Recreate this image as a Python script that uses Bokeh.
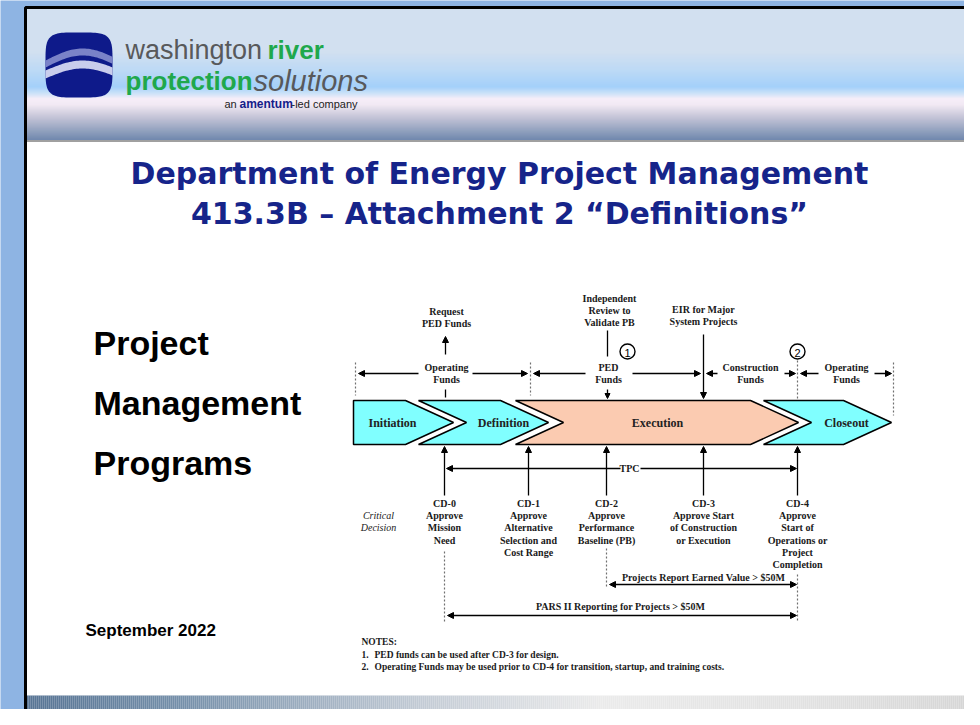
import numpy as np
from bokeh.plotting import figure
from bokeh.models import Range1d, Arrow, NormalHead
from bokeh.core.properties import value
from bokeh.embed import file_html
from bokeh.resources import INLINE

# ---------------- content ----------------
title_lines = ["Department of Energy Project Management",
               "413.3B \u2013 Attachment 2 \u201cDefinitions\u201d"]
side_lines = ["Project", "Management", "Programs"]
date_label = "September 2022"

phase_names = ["Initiation", "Definition", "Execution", "Closeout"]
phase_colors = ["#80FFFF", "#80FFFF", "#FBCBB1", "#80FFFF"]
phase_left = [353, 418, 515, 763]
phase_right = [405, 500, 750, 843]
phase_label_x = [392, 503, 657, 846]

cd_names = ["CD-0", "CD-1", "CD-2", "CD-3", "CD-4"]
cd_desc = [["Approve", "Mission", "Need"],
           ["Approve", "Alternative", "Selection and", "Cost Range"],
           ["Approve", "Performance", "Baseline (PB)"],
           ["Approve Start", "of Construction", "or Execution"],
           ["Approve", "Start of", "Operations or", "Project", "Completion"]]
cd_x = [444, 528, 606, 703, 797]

fund_labels = [["Operating", "Funds"], ["PED", "Funds"], ["Construction", "Funds"], ["Operating", "Funds"]]
fund_x = [446, 608, 750, 846]

top_labels = [["Request", "PED Funds"], ["Independent", "Review to", "Validate PB"], ["EIR for Major", "System Projects"]]
top_x = [446, 609, 703]
top_y0 = [311, 298, 309]

report_labels = ["Projects Report Earned Value > $50M", "PARS II Reporting for Projects > $50M"]
notes = ["NOTES:",
         "PED funds can be used after CD-3 for design.",
         "Operating Funds may be used prior to CD-4 for transition, startup, and training costs."]

# ---------------- figure ----------------
W, H = 964, 709
p = figure(width=W, height=H, x_range=Range1d(0, W), y_range=Range1d(H, 0),
           output_backend="svg", toolbar_location=None, x_axis_type=None, y_axis_type=None,
           min_border=0)
p.grid.visible = False
p.outline_line_color = None
p.background_fill_color = "#8EB4E3"
p.border_fill_color = "#8EB4E3"

SERIF = value("Liberation Serif")
SANS = value("Liberation Sans")


def hex2rgb(h):
    h = h.lstrip("#")
    return np.array([int(h[i:i + 2], 16) for i in (0, 2, 4)], dtype=float)


def grad_colors(stops, pos):
    ps = [s[0] for s in stops]
    cs = np.array([hex2rgb(s[1]) for s in stops])
    out = []
    for v in pos:
        r = np.interp(v, ps, cs[:, 0]); g = np.interp(v, ps, cs[:, 1]); b = np.interp(v, ps, cs[:, 2])
        out.append("#%02x%02x%02x" % (int(r), int(g), int(b)))
    return out


# slide body
p.quad(left=[26], right=[971], top=[8], bottom=[730], fill_color="white", line_color=None)

# header gradient
hy = np.arange(8, 140, 1.0)
hstops = [(8, "#C4D6EB"), (50, "#C4D6EB"), (70, "#A6CDF3"), (86, "#85C1F9"), (92, "#B5D7F6"),
          (98, "#F4E8F6"), (104, "#EDE2F0"), (115, "#B8B6CE"), (127, "#7C8CB0"), (140, "#3E5F91")]
p.quad(left=26, right=971, top=hy, bottom=hy + 1.05, fill_color=grad_colors(hstops, hy), line_color=None)
p.segment(x0=[26], x1=[971], y0=[140.5], y1=[140.5], line_color="#A0A0A0", line_width=2)

# footer gradient
fx = np.arange(26, 971, 2.0)
fstops = [(26, "#587595"), (180, "#7690AA"), (420, "#C3CBD5"), (600, "#EBEBEB"), (800, "#E2E2E2"), (971, "#D6D6D6")]
p.quad(left=fx, right=fx + 2.1, top=695, bottom=730, fill_color=grad_colors(fstops, fx), line_color=None)

# slide frame
p.line(x=[25, 25, 972, 972], y=[730, 7, 7, 730], line_color="black", line_width=3)

# ---------------- logo ----------------
t = np.linspace(0, 2 * np.pi, 120)
n = 4.5
lx = 78.5 + 33.5 * np.sign(np.cos(t)) * np.abs(np.cos(t)) ** (2 / n)
ly = 64.5 + 32.5 * np.sign(np.sin(t)) * np.abs(np.sin(t)) ** (2 / n)
p.patch(lx, ly, fill_color="#0E1A8A", line_color=None)
wx = np.linspace(45, 112, 40)
w1_top = 60 - 12 * np.sin((wx - 45) / 67 * np.pi * 0.9)
w1_bot = w1_top + 7
p.patch(np.concatenate([wx, wx[::-1]]), np.concatenate([w1_top, w1_bot[::-1]]), fill_color="#7A82C8", line_color=None)
w2_top = 70 - 10 * np.sin((wx - 45) / 67 * np.pi * 0.9)
w2_bot = w2_top + 8
p.patch(np.concatenate([wx, wx[::-1]]), np.concatenate([w2_top, w2_bot[::-1]]), fill_color="#C9CDEC", line_color=None)

MIDB = "middle"
p.text(x=[125], y=[49], text=["washington"], text_font=SANS, text_font_size="27px",
       text_color="#58595B", text_baseline=MIDB)
p.text(x=[267], y=[49], text=["river"], text_font=SANS, text_font_size="26px", text_font_style="bold",
       text_color="#1FA84C", text_baseline=MIDB)
p.text(x=[125], y=[80], text=["protection"], text_font=SANS, text_font_size="26px", text_font_style="bold",
       text_color="#1FA84C", text_baseline=MIDB)
p.text(x=[253], y=[80], text=["solutions"], text_font=SANS, text_font_size="29px", text_font_style="italic",
       text_color="#58595B", text_baseline=MIDB)
p.text(x=[224], y=[103], text=["an"], text_font=SANS, text_font_size="11px", text_color="#222222",
       text_baseline=MIDB)
p.text(x=[239], y=[103], text=["amentum"], text_font=SANS, text_font_size="12px", text_font_style="bold",
       text_color="#14208A", text_baseline=MIDB)
p.text(x=[291], y=[103], text=["-led company"], text_font=SANS, text_font_size="11px", text_color="#222222",
       text_baseline=MIDB)

# ---------------- titles ----------------
p.text(x=[499, 499], y=[173, 213], text=title_lines, text_font=value("DejaVu Sans"), text_font_size="30px",
       text_font_style="bold", text_color="#16248A", text_align="center", text_baseline=MIDB)
p.text(x=[93, 93, 93], y=[342, 402, 462], text=side_lines, text_font=SANS, text_font_size="34px",
       text_font_style="bold", text_color="black", text_baseline=MIDB)
p.text(x=[85], y=[630], text=[date_label], text_font=SANS, text_font_size="17px", text_font_style="bold",
       text_color="black", text_baseline=MIDB)

# ---------------- chevrons ----------------
TOP, MID, BOT, DEPTH = 400, 422, 444, 48
for i, name in enumerate(phase_names):
    L, R = phase_left[i], phase_right[i]
    if i == 0:
        xs = [L, R, R + DEPTH, R, L]
        ys = [TOP, TOP, MID, BOT, BOT]
    else:
        xs = [L, R, R + DEPTH, R, L, L + DEPTH]
        ys = [TOP, TOP, MID, BOT, BOT, MID]
    p.patch(xs, ys, fill_color=phase_colors[i], line_color="black", line_width=1.5)
p.text(x=phase_label_x, y=[MID] * 4, text=phase_names, text_font=SERIF, text_font_style="bold",
       text_font_size="12px", text_color="#222222", text_align="center", text_baseline="middle")


# ---------------- helpers ----------------
def arrow(x0, y0, x1, y1, both=False, size=6, lw=1.3):
    head = NormalHead(size=size, fill_color="black", line_color="black", line_width=1)
    kw = dict(x_start=x0, y_start=y0, x_end=x1, y_end=y1, line_color="black", line_width=lw, end=head)
    if both:
        kw["start"] = NormalHead(size=size, fill_color="black", line_color="black", line_width=1)
    else:
        kw["start"] = None
    p.add_layout(Arrow(**kw))


def lines(x, y0, items, size="10px", dy=12.2, style="bold"):
    ys = [y0 + k * dy for k in range(len(items))]
    p.text(x=[x] * len(items), y=ys, text=items, text_font=SERIF, text_font_style=style,
           text_font_size=size, text_color="#1A1A1A", text_align="center", text_baseline="middle")


DOT = dict(line_color="#707070", line_width=1.2, line_dash="2 2")

# dotted verticals (top)
p.segment(x0=[355, 530, 797, 893], x1=[355, 530, 797, 893], y0=[362, 362, 360, 362], y1=[395, 395, 398, 415], **DOT)
# dotted verticals (bottom)
p.segment(x0=[444, 606, 797], x1=[444, 606, 797], y0=[551, 548, 574], y1=[622, 588, 622], **DOT)

# top labels
for items, x, y0 in zip(top_labels, top_x, top_y0):
    lines(x, y0, items)
for items, x in zip(fund_labels, fund_x):
    lines(x, 367, items)

FY = 373
arrow(418, FY, 358, FY)
arrow(472, FY, 527, FY)
arrow(585, FY, 533, FY)
arrow(632, FY, 700, FY)
arrow(717, FY, 706, FY)
arrow(784, FY, 795, FY)
arrow(818, FY, 800, FY)
arrow(874, FY, 891, FY)

arrow(445, 354, 445, 336)               # Request PED funds
p.segment(x0=[445], x1=[445], y0=[389], y1=[397], line_color="black", line_width=1.3)
p.segment(x0=[607], x1=[607], y0=[330], y1=[356], line_color="black", line_width=1.3)
arrow(607, 389, 607, 398, size=5)       # PED funds down
arrow(703, 334, 703, 398)               # EIR

# circled numbers
p.scatter(x=[627, 797], y=[351, 351], size=15, marker="circle", fill_color="white",
          line_color="black", line_width=1.4)
p.text(x=[627, 797], y=[352, 352], text=["1", "2"], text_font=SANS, text_font_size="11px",
       text_color="black", text_align="center", text_baseline="middle")

# CD arrows
for x in cd_x:
    arrow(x, 495, x, 446)

# TPC
arrow(620, 468, 446, 468)
arrow(640, 468, 796, 468)
p.text(x=[629], y=[468], text=["TPC"], text_font=SERIF, text_font_style="bold", text_font_size="10px",
       text_color="#1A1A1A", text_align="center", text_baseline="middle")

# CD labels
for name, desc, x in zip(cd_names, cd_desc, cd_x):
    lines(x, 503, [name] + desc)
lines(378, 515, ["Critical", "Decision"], style="italic")

# reporting arrows
arrow(609, 584, 796, 584, both=True)
p.text(x=[703], y=[577], text=[report_labels[0]], text_font=SERIF, text_font_style="bold",
       text_font_size="10px", text_color="#1A1A1A", text_align="center", text_baseline="middle")
arrow(447, 615, 796, 615, both=True)
p.text(x=[620], y=[606], text=[report_labels[1]], text_font=SERIF, text_font_style="bold",
       text_font_size="10px", text_color="#1A1A1A", text_align="center", text_baseline="middle")

# notes
p.text(x=[361], y=[641], text=[notes[0]], text_font=SERIF, text_font_style="bold", text_font_size="9.5px",
       text_color="#1A1A1A", text_baseline="middle")
p.text(x=[361, 361], y=[654, 666], text=["1.", "2."], text_font=SERIF, text_font_style="bold",
       text_font_size="9.5px", text_color="#1A1A1A", text_baseline="middle")
p.text(x=[374, 374], y=[654, 666], text=notes[1:], text_font=SERIF, text_font_style="bold",
       text_font_size="9.5px", text_color="#1A1A1A", text_baseline="middle")

open("out.html", "w").write(file_html(p, INLINE))
